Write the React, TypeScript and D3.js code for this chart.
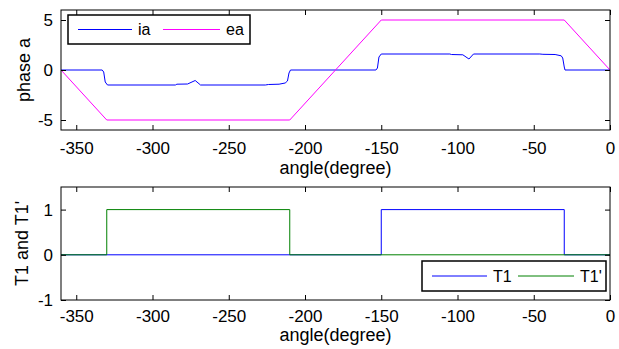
import { useEffect, useRef } from 'react';
import * as d3 from 'd3';

const xTicks = [-350, -300, -250, -200, -150, -100, -50, 0];
const phaseTicks = [-5, 0, 5];
const pulseTicks = [-1, 0, 1];

// phase current ia
const iaAngles = [
  -360, -333, -332, -331, -329.5, -285, -284, -277, -272, -268.5, -226, -224, -217, -213, -211.5, -210.5, -209.5,
  -153.5, -152.5, -151.5, -150, -105, -104, -96.5, -92.5, -89.5, -46, -44, -36, -32, -31, -30, -29.5, 0,
];
const iaValues = [
  0, 0, -0.2, -1.2, -1.5, -1.5, -1.42, -1.4, -1.05, -1.5, -1.5, -1.45, -1.42, -1.3, -1.1, -0.3, 0,
  0, 0.2, 1.3, 1.6, 1.6, 1.55, 1.52, 1.1, 1.6, 1.6, 1.57, 1.55, 1.42, 1.2, 0.3, 0, 0,
];

// back emf ea
const eaAngles = [-360, -330, -210, -150, -30, 0];
const eaValues = [0, -5, -5, 5, 5, 0];

// switch signals
const t1Angles = [-360, -150, -150, -30, -30, 0];
const t1Values = [0, 0, 1, 1, 0, 0];
const t1pAngles = [-360, -330, -330, -210, -210, 0];
const t1pValues = [0, 0, 1, 1, 0, 0];

const FONT = '"Liberation Sans", Arial, Helvetica, sans-serif';

interface Series {
  angles: number[];
  values: number[];
  color: string;
  width: number;
  label: string;
}

interface Panel {
  top: number;
  bottom: number;
  yDomain: [number, number];
  yTicks: number[];
  series: Series[];
  yLabel: string;
  yLabelX: number;
  tickPad: number;
  xLabelY: number;
  legend: { x: number; y: number; w: number; h: number; items: { x: number; lineW: number }[] };
}

const LEFT = 61;
const RIGHT = 610;

function drawPanel(svg: d3.Selection<SVGSVGElement, unknown, null, undefined>, p: Panel) {
  const x = d3.scaleLinear().domain([-360, 0]).range([LEFT, RIGHT]);
  const y = d3.scaleLinear().domain(p.yDomain).range([p.bottom, p.top]);
  const g = svg.append('g');

  p.series.forEach((s) => {
    const line = d3
      .line<number>()
      .x((_, i) => x(s.angles[i]))
      .y((v) => y(v));
    g.append('path')
      .datum(s.values)
      .attr('d', line)
      .attr('fill', 'none')
      .attr('stroke', s.color)
      .attr('stroke-width', s.width);
  });

  const fmt = (d: d3.NumberValue) => String(d);
  const styleAxis = (sel: d3.Selection<SVGGElement, unknown, null, undefined>) => {
    sel.select('.domain').remove();
    sel.selectAll('.tick line').attr('stroke', '#000');
    sel.selectAll('text').attr('fill', '#000').attr('font-size', 17).attr('font-family', FONT);
  };

  g.append('g')
    .attr('transform', `translate(0,${p.bottom})`)
    .call(d3.axisBottom(x).tickValues(xTicks).tickSizeInner(-5).tickSizeOuter(0).tickPadding(p.tickPad).tickFormat(fmt))
    .call(styleAxis);
  g.append('g')
    .attr('transform', `translate(0,${p.top})`)
    .call(d3.axisTop(x).tickValues(xTicks).tickSizeInner(-5).tickSizeOuter(0).tickFormat(() => ''))
    .call(styleAxis);
  g.append('g')
    .attr('transform', `translate(${LEFT},0)`)
    .call(d3.axisLeft(y).tickValues(p.yTicks).tickSizeInner(-5).tickSizeOuter(0).tickPadding(8).tickFormat(fmt))
    .call(styleAxis);
  g.append('g')
    .attr('transform', `translate(${RIGHT},0)`)
    .call(d3.axisRight(y).tickValues(p.yTicks).tickSizeInner(-5).tickSizeOuter(0).tickFormat(() => ''))
    .call(styleAxis);

  g.append('rect')
    .attr('x', LEFT)
    .attr('y', p.top)
    .attr('width', RIGHT - LEFT)
    .attr('height', p.bottom - p.top)
    .attr('fill', 'none')
    .attr('stroke', '#000');

  g.append('text')
    .attr('x', (LEFT + RIGHT) / 2)
    .attr('y', p.xLabelY)
    .attr('text-anchor', 'middle')
    .attr('font-size', 18)
    .attr('font-family', FONT)
    .text('angle(degree)');

  g.append('text')
    .attr('transform', `translate(${p.yLabelX},${(p.top + p.bottom) / 2}) rotate(-90)`)
    .attr('text-anchor', 'middle')
    .attr('font-size', 18)
    .attr('font-family', FONT)
    .text(p.yLabel);

  // legend
  const L = p.legend;
  const lg = g.append('g');
  lg.append('rect')
    .attr('x', L.x)
    .attr('y', L.y)
    .attr('width', L.w)
    .attr('height', L.h)
    .attr('fill', '#fff')
    .attr('stroke', '#000')
    .attr('stroke-width', 1.5);
  p.series.forEach((s, i) => {
    const it = L.items[i];
    const cy = L.y + L.h / 2;
    lg.append('line')
      .attr('x1', it.x)
      .attr('x2', it.x + it.lineW)
      .attr('y1', cy)
      .attr('y2', cy)
      .attr('stroke', s.color)
      .attr('stroke-width', s.width);
    lg.append('text')
      .attr('x', it.x + it.lineW + 6)
      .attr('y', cy)
      .attr('dy', '0.36em')
      .attr('font-size', 16)
      .attr('font-family', FONT)
      .text(s.label);
  });
}

export default function App() {
  const svgRef = useRef<SVGSVGElement>(null);

  useEffect(() => {
    document.body.style.margin = '0';
    if (!svgRef.current) return;
    const svg = d3.select(svgRef.current);
    svg.selectAll('*').remove();

    drawPanel(svg, {
      top: 10,
      bottom: 130,
      yDomain: [-6, 6],
      yTicks: phaseTicks,
      series: [
        { angles: iaAngles, values: iaValues, color: '#0000ff', width: 1, label: 'ia' },
        { angles: eaAngles, values: eaValues, color: '#ff00ff', width: 1, label: 'ea' },
      ],
      yLabel: 'phase a',
      yLabelX: 30,
      tickPad: 12,
      xLabelY: 174,
      legend: { x: 68, y: 15, w: 182, h: 29, items: [{ x: 78, lineW: 54 }, { x: 163, lineW: 57 }] },
    });

    drawPanel(svg, {
      top: 187,
      bottom: 300,
      yDomain: [-1, 1.5],
      yTicks: pulseTicks,
      series: [
        { angles: t1Angles, values: t1Values, color: '#0000ff', width: 1, label: 'T1' },
        { angles: t1pAngles, values: t1pValues, color: '#008000', width: 1, label: "T1'" },
      ],
      yLabel: "T1 and T1'",
      yLabelX: 28,
      tickPad: 10,
      xLabelY: 341,
      legend: { x: 422, y: 261, w: 184, h: 30, items: [{ x: 432, lineW: 55 }, { x: 518, lineW: 56 }] },
    });
  }, []);

  return <svg ref={svgRef} width={619} height={349} style={{ display: 'block', background: '#fff' }} />;
}
